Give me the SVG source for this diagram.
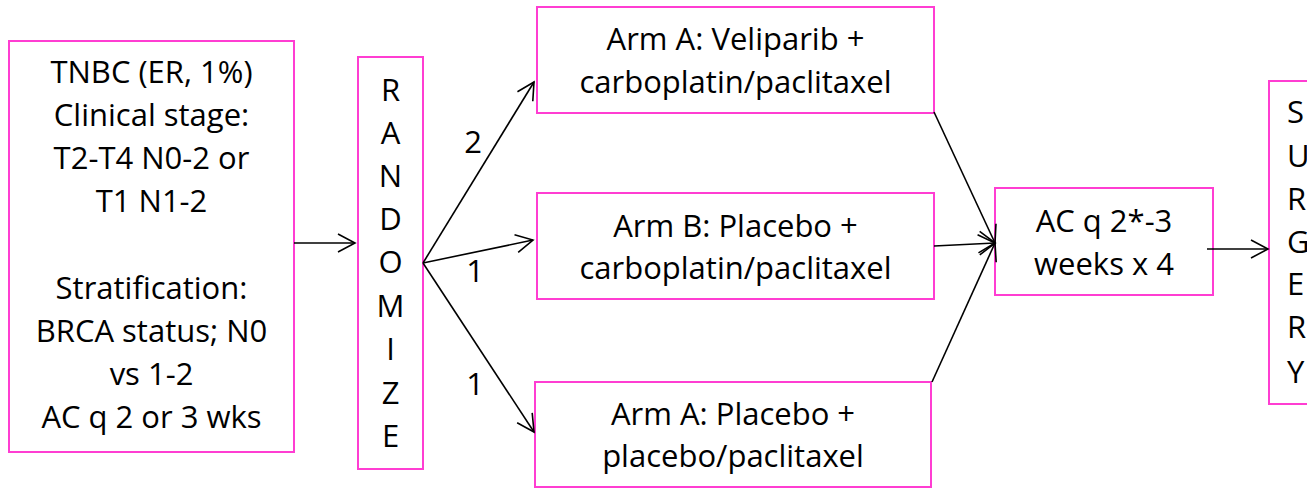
<svg xmlns="http://www.w3.org/2000/svg" width="1307" height="488" viewBox="0 0 1307 488">
<defs>
<style>
.box{fill:#fff;stroke:#ff3dd2;stroke-width:2}
.t{font-family:"Open Sans","Liberation Sans",sans-serif;font-size:31px;fill:#000;text-anchor:middle}
.ts{font-family:"Open Sans","Liberation Sans",sans-serif;font-size:31px;fill:#000;text-anchor:start}
.c{fill:none;stroke:#000;stroke-width:1.6}
</style>
<marker id="arr" markerUnits="userSpaceOnUse" markerWidth="24" markerHeight="24" viewBox="-20 -12 24 24" refX="0" refY="0" orient="auto">
<path d="M-17,-9 L0,0 L-17,9" fill="none" stroke="#000" stroke-width="1.6"/>
</marker>
</defs>
<rect width="1307" height="488" fill="#fff"/>
<g id="eligibility">
<rect class="box" x="9" y="41" width="285" height="411"/>
<text class="t" x="151.5" y="83">TNBC (ER, 1%)</text>
<text class="t" x="151.5" y="126">Clinical stage:</text>
<text class="t" x="151.5" y="169">T2-T4 N0-2 or</text>
<text class="t" x="151.5" y="212">T1 N1-2</text>
<text class="t" x="151.5" y="299">Stratification:</text>
<text class="t" x="151.5" y="342">BRCA status; N0</text>
<text class="t" x="151.5" y="385">vs 1-2</text>
<text class="t" x="151.5" y="428">AC q 2 or 3 wks</text>
</g>
<g id="randomize">
<rect class="box" x="358" y="57" width="65" height="412"/>
<text class="t" x="390.5" y="101">R</text>
<text class="t" x="390.5" y="144">A</text>
<text class="t" x="390.5" y="187">N</text>
<text class="t" x="390.5" y="230">D</text>
<text class="t" x="390.5" y="273">O</text>
<text class="t" x="390.5" y="317">M</text>
<text class="t" x="390.5" y="360">I</text>
<text class="t" x="390.5" y="404">Z</text>
<text class="t" x="390.5" y="447">E</text>
</g>
<g id="armA">
<rect class="box" x="537" y="7" width="397" height="106"/>
<text class="t" x="735.5" y="50">Arm A: Veliparib +</text>
<text class="t" x="735.5" y="93">carboplatin/paclitaxel</text>
</g>
<g id="armB">
<rect class="box" x="537" y="193" width="397" height="106"/>
<text class="t" x="735.5" y="237">Arm B: Placebo +</text>
<text class="t" x="735.5" y="279">carboplatin/paclitaxel</text>
</g>
<g id="armC">
<rect class="box" x="535" y="382" width="396" height="105"/>
<text class="t" x="733" y="425">Arm A: Placebo +</text>
<text class="t" x="733" y="467">placebo/paclitaxel</text>
</g>
<g id="ac">
<rect class="box" x="995" y="188" width="218" height="107"/>
<text class="t" x="1104" y="232">AC q 2*-3</text>
<text class="t" x="1104" y="275">weeks x 4</text>
</g>
<g id="surgery">
<rect class="box" x="1269" y="81" width="60" height="323"/>
<text class="ts" x="1287" y="123">S</text>
<text class="ts" x="1287" y="167">U</text>
<text class="ts" x="1287" y="210">R</text>
<text class="ts" x="1287" y="253">G</text>
<text class="ts" x="1287" y="295">E</text>
<text class="ts" x="1287" y="338">R</text>
<text class="ts" x="1287" y="383">Y</text>
</g>
<g id="connectors">
<line class="c" x1="294" y1="243" x2="355" y2="243" marker-end="url(#arr)"/>
<line class="c" x1="423" y1="263" x2="534" y2="82" marker-end="url(#arr)"/>
<line class="c" x1="423" y1="263" x2="533" y2="240" marker-end="url(#arr)"/>
<line class="c" x1="423" y1="263" x2="534" y2="432" marker-end="url(#arr)"/>
<line class="c" x1="934" y1="112" x2="995" y2="243" marker-end="url(#arr)"/>
<line class="c" x1="934" y1="246" x2="995" y2="243" marker-end="url(#arr)"/>
<line class="c" x1="932" y1="382" x2="995" y2="243" marker-end="url(#arr)"/>
<line class="c" x1="1207" y1="249" x2="1268" y2="249" marker-end="url(#arr)"/>
<text class="t" x="473" y="153">2</text>
<text class="t" x="475" y="282">1</text>
<text class="t" x="475" y="395">1</text>
</g>
</svg>
